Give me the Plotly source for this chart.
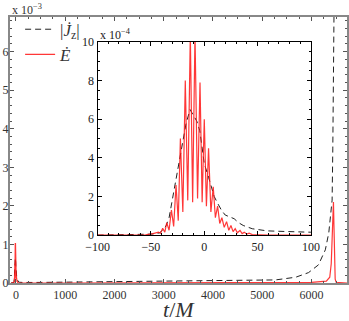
import plotly.graph_objects as go

# inset window, t/M in [-100, 100], values in units of 1e-4
t_e = [-100, -70, -55, -48, -43, -41, -39, -37, -35.2, -33, -30.8, -28.7, -26.5, -24.4,
       -22.4, -20.1, -17.8, -15.5, -13.1, -10.9, -8.7, -6.3, -4.0, -2.0, 0.0, 2.0, 4.0,
       6.2, 8.4, 10.4, 12.5, 14.5, 16.5, 18.7, 20.9, 23, 25, 27, 29, 31, 33.5, 35.5,
       37.5, 40, 42, 45, 50, 60, 100]
e_dot = [0, 0, 0.02, 0.08, 0.15, 0.1, 0.35, 0.15, 0.65, 0.25, 1.3, 0.45, 2.6, 0.75,
         5.0, 1.2, 8.0, 1.8, 10.4, 1.7, 10.4, 1.9, 7.9, 1.7, 6.0, 1.5, 4.5,
         1.2, 2.5, 0.9, 1.5, 0.6, 0.9, 0.4, 0.7, 0.25, 0.5, 0.18, 0.33, 0.12, 0.24, 0.08,
         0.15, 0.05, 0.1, 0.03, 0.02, 0, 0]

t_j = [-100, -60, -50, -45, -42, -38, -35.7, -33, -31, -28.5, -26.5, -23, -20, -17,
       -13.3, -10, -7, -4.2, -2, 0, 4, 9.3, 12.5, 16, 19.6, 24, 28, 32, 36.5, 45, 59, 75, 90, 100]
j_dot = [0, 0.02, 0.05, 0.08, 0.12, 0.3, 0.5, 0.9, 1.5, 2.2, 2.85, 3.9, 4.9, 5.8,
         6.5, 6.2, 5.9, 5.4, 4.5, 3.7, 3.0, 2.0, 1.65, 1.3, 1.04, 0.95, 0.85, 0.65, 0.5, 0.33, 0.22, 0.19, 0.17, 0.15]

# rest of the run, t/M > 100, values in units of 1e-3
t_e_late = [150, 1000, 3000, 5000, 6000, 6300, 6370, 6400, 6420, 6435, 6445, 6455, 6465, 6480, 6500, 6720]
e_late = [0, 0, 0.005, 0.01, 0.015, 0.05, 0.15, 0.5, 1.2, 1.8, 2.1, 1.5, 0.6, 0.1, 0.02, 0]

t_j_late = [150, 500, 1000, 2000, 3000, 4000, 5000, 5270, 5680, 5940, 6140, 6280, 6350,
            6385, 6418, 6432, 6445, 6455, 6470]
j_late = [0.014, 0.015, 0.02, 0.03, 0.04, 0.05, 0.07, 0.08, 0.15, 0.27, 0.47, 0.86, 1.3,
          1.8, 2.15, 3.5, 5.0, 7.0, 9.0]

# whole run for the big panel (1e-3 units)
t_all_e = t_e + t_e_late
e_all = [v / 10 for v in e_dot] + e_late
t_all_j = t_j + t_j_late
j_all = [v / 10 for v in j_dot] + j_late

red = "rgba(255,20,20,0.85)"
serif = "'Liberation Serif', 'Times New Roman', serif"

fig = go.Figure()
fig.add_trace(go.Scatter(x=t_all_j, y=j_all, mode="lines", name="|<i>J̇</i><sub>z</sub>|",
                         line=dict(color="#222", width=1, dash="6px,4px")))
fig.add_trace(go.Scatter(x=t_all_e, y=e_all, mode="lines", name="<i>Ė</i>",
                         line=dict(color=red, width=1.2)))
fig.add_trace(go.Scatter(x=t_j, y=j_dot, mode="lines", showlegend=False,
                         xaxis="x2", yaxis="y2",
                         line=dict(color="#222", width=1, dash="6px,4px")))
fig.add_trace(go.Scatter(x=t_e, y=e_dot, mode="lines", showlegend=False,
                         xaxis="x2", yaxis="y2",
                         line=dict(color=red, width=1.2)))

ax_main = dict(showgrid=False, zeroline=False, showline=True, linecolor="#888", linewidth=2,
               mirror="allticks", ticks="inside", ticklen=4, tickcolor="#555", automargin=False,
               tickfont=dict(family=serif, size=12, color="#333"))
ax_in = dict(showgrid=False, zeroline=False, showline=True, linecolor="black", linewidth=1.3,
             mirror="allticks", ticks="inside", ticklen=4, tickcolor="black", automargin=False,
             tickfont=dict(family=serif, size=12, color="#222"))

fig.update_layout(
    width=349, height=321,
    margin=dict(l=10, r=2, t=17, b=38),
    plot_bgcolor="white", paper_bgcolor="white",
    font=dict(family=serif),
    xaxis=dict(ax_main, range=[-120, 6720], tickvals=[0, 1000, 2000, 3000, 4000, 5000, 6000],
               minor=dict(dtick=250, ticks="inside", ticklen=2, tickcolor="#555")),
    yaxis=dict(ax_main, range=[0, 6.9], dtick=1, ticklabelstandoff=-3,
               minor=dict(dtick=0.2, ticks="inside", ticklen=2, tickcolor="#555")),
    xaxis2=dict(ax_in, domain=[0.26, 0.893], anchor="y2", range=[-100, 100], dtick=50,
                minor=dict(dtick=10, ticks="inside", ticklen=2, tickcolor="black")),
    yaxis2=dict(ax_in, domain=[0.18, 0.906], anchor="x2", range=[0, 10], dtick=2,
                minor=dict(dtick=0.5, ticks="inside", ticklen=2, tickcolor="black")),
    legend=dict(x=0.03, y=1.02, xanchor="left", yanchor="top", bgcolor="rgba(0,0,0,0)",
                font=dict(family=serif, size=17, color="#333"), tracegroupgap=0),
    annotations=[
        dict(text="x 10<sup>−3</sup>", xref="paper", yref="paper", x=0.0, y=1.0,
             xanchor="left", yanchor="bottom", showarrow=False, yshift=-2,
             font=dict(family=serif, size=12, color="#333")),
        dict(text="x 10<sup>−4</sup>", xref="paper", yref="paper", x=0.26, y=0.906,
             xanchor="left", yanchor="bottom", showarrow=False, yshift=-2,
             font=dict(family=serif, size=12, color="#222")),
        dict(text="<i>t</i>/<i>M</i>", xref="paper", yref="paper", x=0.5, y=0,
             xanchor="center", yanchor="top", showarrow=False, yshift=-12,
             font=dict(family=serif, size=22, color="#333")),
    ],
)

# the page body has an 8px margin by default; drop it so the figure sits at the corner
fig.write_html("out.html", config={"displayModeBar": False},
               post_script="document.body.style.margin='0px';")
